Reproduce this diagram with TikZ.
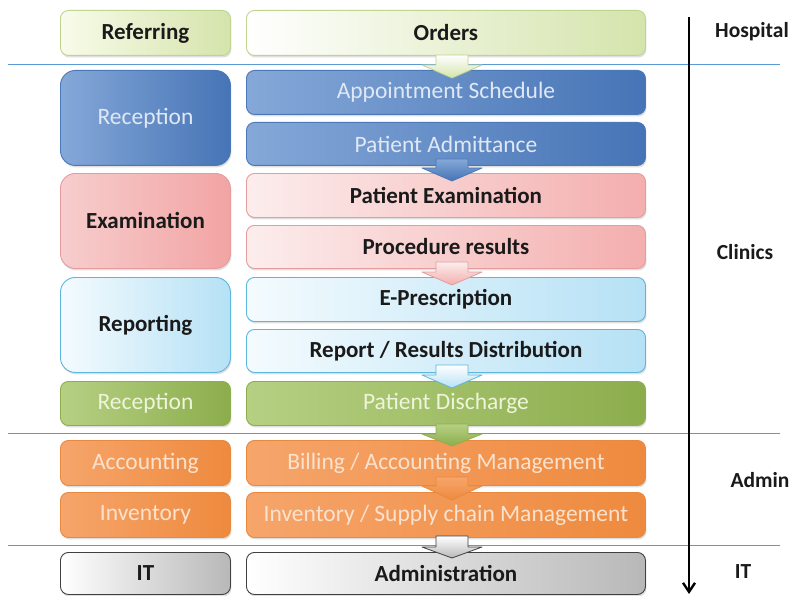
\documentclass[tikz,border=0pt]{standalone}
\usepackage{fontspec}
\setmainfont{Carlito}
\usetikzlibrary{shadows,arrows.meta}
\definecolor{ygL}{HTML}{F8FBEA}
\definecolor{ygR}{HTML}{D5E4AC}
\definecolor{ygB}{HTML}{BED48F}
\definecolor{blL}{HTML}{85A8D8}
\definecolor{blR}{HTML}{4674B6}
\definecolor{blB}{HTML}{4A78B8}
\definecolor{blT}{HTML}{E0E8F4}
\definecolor{pkL}{HTML}{FCEDED}
\definecolor{pkR}{HTML}{F4AEAE}
\definecolor{pkB}{HTML}{E49C9C}
\definecolor{pkfL}{HTML}{F7CDCD}
\definecolor{pkfR}{HTML}{F2A4A4}
\definecolor{lbL}{HTML}{F4FBFE}
\definecolor{lbR}{HTML}{B6E1F5}
\definecolor{lbB}{HTML}{5DB6DE}
\definecolor{grL}{HTML}{B6D083}
\definecolor{grR}{HTML}{8CAD4C}
\definecolor{grB}{HTML}{8DAE50}
\definecolor{grT}{HTML}{EEF5DA}
\definecolor{orL}{HTML}{F6A56B}
\definecolor{orR}{HTML}{EE8A3E}
\definecolor{orB}{HTML}{E8893F}
\definecolor{orT}{HTML}{FBE2CF}
\definecolor{gyR}{HTML}{B8B8B8}
\definecolor{gyB}{HTML}{404040}
\definecolor{sepC}{HTML}{5B9BD5}
\definecolor{txt}{HTML}{1A1A1A}
\tikzset{
  box/.style={anchor=north west, inner sep=0pt, rounded corners=8pt, line width=0.9pt,
    font=\fontsize{23.5}{26}\selectfont,
    drop shadow={shadow xshift=1pt, shadow yshift=-2pt, opacity=0.25}},
  lbox/.style={box, minimum width=170pt},
  rbox/.style={box, minimum width=399pt},
  dk/.style={text=txt, font=\fontsize{23}{26}\selectfont\bfseries},
  yg/.style={left color=ygL, right color=ygR, draw=ygB, dk},
  bl/.style={left color=blL, right color=blR, draw=blB, text=blT},
  pk/.style={left color=pkL, right color=pkR, draw=pkB, dk},
  pkfull/.style={left color=pkfL, right color=pkfR},
  lb/.style={left color=lbL, right color=lbR, draw=lbB, dk},
  gr/.style={left color=grL, right color=grR, draw=grB, text=grT},
  orx/.style={left color=orL, right color=orR, draw=orB, text=orT},
  gy/.style={left color=white, right color=gyR, draw=gyB, dk},
  lab/.style={text=txt, font=\fontsize{21.5}{24}\selectfont\bfseries},
  sepline/.style={draw=sepC, line width=0.9pt},
  barrow/.style={line width=0.8pt, line join=round},
}
\newcommand{\blockarr}[4]{%
  \draw[barrow,#1] (436,#2) -- (468,#2) -- (468,#3) -- (482,#3) -- (452,#4) -- (422,#3) -- (436,#3) -- cycle;}
\begin{document}
\begin{tikzpicture}[x=1pt,y=-1pt]
\useasboundingbox (0,0) rectangle (794,596);
\fill[white] (0,0) rectangle (794,596);

% separators
\draw[sepline] (8,64) -- (780,64);
\draw[sepline] (8,433) -- (780,433);
\draw[sepline] (8,545) -- (780,545);

% left column
\node[lbox, yg, minimum height=45pt] (referring) at (60,10) {Referring};
\node[lbox, bl, minimum height=95pt, rounded corners=15pt] (reception) at (60,70) {Reception};
\node[lbox, pk, pkfull, minimum height=95pt, rounded corners=15pt] (examination) at (60,173) {Examination};
\node[lbox, lb, minimum height=95pt, rounded corners=15pt] (reporting) at (60,277) {Reporting};
\node[lbox, gr, minimum height=44pt] (reception2) at (60,381) {Reception};
\node[lbox, orx, minimum height=45pt] (accounting) at (60,440) {Accounting};
\node[lbox, orx, minimum height=45pt] (inventory) at (60,492) {Inventory};
\node[lbox, gy, minimum height=42pt] (it) at (60,552) {IT};

% right column
\node[rbox, yg, left color=white, minimum height=45pt] (orders) at (246,10) {Orders};
\node[rbox, bl, minimum height=44pt] (appt) at (246,70) {Appointment Schedule};
\node[rbox, bl, minimum height=43pt] (admit) at (246,122) {Patient Admittance};
\node[rbox, pk, minimum height=44pt] (pexam) at (246,173) {Patient Examination};
\node[rbox, pk, minimum height=43pt] (proc) at (246,225) {Procedure results};
\node[rbox, lb, minimum height=44pt] (epres) at (246,277) {E-Prescription};
\node[rbox, lb, minimum height=43pt] (report) at (246,329) {Report / Results Distribution};
\node[rbox, gr, minimum height=44pt] (discharge) at (246,381) {Patient Discharge};
\node[rbox, orx, minimum height=45pt] (billing) at (246,440) {Billing / Accounting Management};
\node[rbox, orx, minimum height=45pt] (supply) at (246,492) {Inventory / Supply chain Management};
\node[rbox, gy, minimum height=42pt] (admin) at (246,552) {Administration};

% block arrows
\blockarr{top color=white, bottom color=ygR, draw=ygB}{55}{65}{78}
\blockarr{top color=blL, bottom color=blR, draw=blB}{159}{168}{181}
\blockarr{top color=pkL, bottom color=pkR, draw=pkB}{262}{272}{285}
\blockarr{top color=white, bottom color=lbR, draw=lbB}{365}{375}{388}
\blockarr{top color=grL, bottom color=grR, draw=grB}{424}{434}{446}
\blockarr{top color=orL, bottom color=orR, draw=orB}{477}{486}{500}
\blockarr{top color=white, bottom color=gyR, draw=gyB}{536}{547}{558}

% time axis
\coordinate (axtop) at (689,17);
\coordinate (axbot) at (689,594);
\draw[line width=2.4pt, -{Straight Barb[length=9pt,width=12pt]}] (axtop) -- (axbot);

% right labels
\node[lab] (hospital) at (752,32) {Hospital};
\node[lab] (clinics) at (745,252) {Clinics};
\node[lab] (adminlab) at (760,480) {Admin};
\node[lab] (itlab) at (743,572) {IT};
\end{tikzpicture}
\end{document}
